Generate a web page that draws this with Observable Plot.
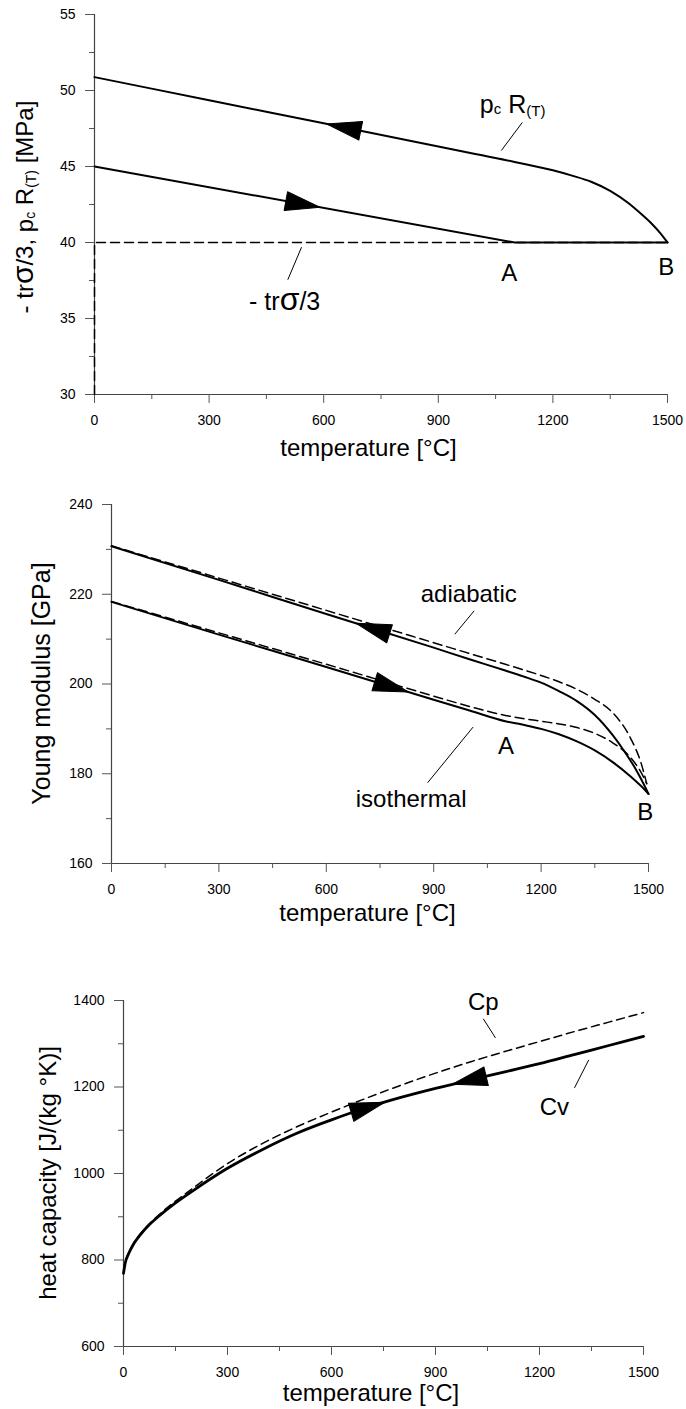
<!DOCTYPE html>
<html><head><meta charset="utf-8">
<script src="https://cdn.jsdelivr.net/npm/d3@7"></script>
<script src="https://cdn.jsdelivr.net/npm/@observablehq/plot@0.6"></script>
<style>
body{margin:0;background:#fff;}
#wrap{width:686px;}
#wrap svg{display:block;}
</style></head><body><div id="wrap"></div>
<script>
// ---------- shared ticks ----------
const xTicks = [0, 300, 600, 900, 1200, 1500];
const xMinorTicks = [150, 450, 750, 1050, 1350];

// ---------- panel 1 : - tr sigma/3 and pc R(T) ----------
const p1YTicks = [30, 35, 40, 45, 50, 55];
const p1YMinor = [32.5, 37.5, 42.5, 47.5, 52.5];
const pcR_T = [0, 300, 600, 900, 1000, 1100, 1200, 1250, 1300, 1350, 1400, 1430, 1460, 1480, 1500];
const pcR_V = [50.88, 49.36, 47.84, 46.32, 45.8, 45.3, 44.75, 44.4, 44.0, 43.4, 42.55, 41.9, 41.2, 40.65, 40.0];
const load_T = [0, 1100, 1500];
const load_V = [45.0, 40.0, 40.0];
const trace_T = [0, 0, 1500];
const trace_V = [30, 40, 40];
const p1Labels = ["A", "B"];
const p1LabelT = [1086, 1497];
const p1LabelV = [37.96, 38.36];
const p1LeadT1 = [1120, 542], p1LeadV1 = [47.9, 39.69];
const p1LeadT2 = [1065, 506], p1LeadV2 = [46.05, 37.55];
const p1ArrowT = [652, 546];
const p1ArrowDir = [-1, 1];

// ---------- panel 2 : Young modulus ----------
const p2YTicks = [160, 180, 200, 220, 240];
const p2YMinor = [170, 190, 210, 230];
const adS_T = [0, 300, 600, 900, 1000, 1100, 1150, 1200, 1250, 1300, 1350, 1400, 1430, 1460, 1480, 1500];
const adS_V = [230.7, 223.2, 215.6, 208.1, 205.5, 203.0, 201.7, 200.3, 198.4, 196.2, 193.1, 188.6, 185.3, 181.6, 178.7, 175.5];
const adD_T = [0, 300, 600, 900, 1000, 1100, 1200, 1250, 1300, 1350, 1400, 1450, 1480, 1495];
const adD_V = [230.8, 223.6, 216.4, 209.2, 206.8, 204.4, 201.9, 200.5, 198.8, 196.6, 193.6, 187.9, 182.2, 177.8];
const isS_T = [0, 300, 600, 900, 1000, 1100, 1150, 1200, 1250, 1300, 1350, 1400, 1450, 1480, 1500];
const isS_V = [218.3, 211.0, 203.8, 196.5, 194.1, 191.7, 190.9, 190.0, 188.8, 187.2, 185.2, 182.6, 179.4, 177.2, 175.5];
const isD_T = [0, 300, 600, 900, 1000, 1100, 1150, 1200, 1250, 1300, 1350, 1400, 1450, 1480, 1495];
const isD_V = [218.4, 211.4, 204.4, 197.3, 195.0, 193.0, 192.3, 191.7, 191.1, 190.3, 189.0, 186.9, 183.6, 180.2, 177.8];
const p2Labels = ["adiabatic", "isothermal", "A", "B"];
const p2LabelT = [998, 837, 1102, 1491];
const p2LabelV = [220.0, 174.3, 186.2, 171.4];
const p2LeadT1 = [1013, 1010], p2LeadV1 = [216.3, 190.4];
const p2LeadT2 = [959, 883], p2LeadV2 = [211.1, 178.0];
const p2ArrowT = [730, 782];
const p2ArrowDir = [-1, 1];

// ---------- panel 3 : heat capacity ----------
const p3YTicks = [600, 800, 1000, 1200, 1400];
const p3YMinor = [700, 900, 1100, 1300];
const cv_T = [0, 5, 15, 30, 50, 75, 100, 150, 200, 300, 400, 500, 600, 700, 800, 900, 1000, 1100, 1200, 1300, 1400, 1500];
const cv_V = [769, 793, 815, 838, 860, 882, 900, 932, 960, 1012, 1055, 1093, 1124, 1152, 1176, 1197, 1216, 1235, 1254, 1275, 1296, 1317];
const cp_T = [0, 5, 15, 30, 50, 75, 100, 150, 200, 300, 400, 500, 600, 700, 800, 900, 1000, 1100, 1200, 1300, 1400, 1500];
const cp_V = [769, 794, 817, 840, 862, 884, 903, 936, 966, 1023, 1069, 1108, 1142, 1174, 1204, 1232, 1258, 1282, 1305, 1328, 1350, 1372];
const p3Labels = ["Cp", "Cv"];
const p3LabelT = [1038, 1243];
const p3LabelV = [1396, 1153];
const p3LeadT1 = [1038, 1342], p3LeadV1 = [1357.6, 1262.7];
const p3LeadT2 = [1073, 1301], p3LeadV2 = [1313.6, 1198];
const p3ArrowT = [705, 997];
const p3ArrowDir = [1, -1];

// ---------- helpers ----------
const FONT = "'Liberation Sans', Arial, Helvetica, sans-serif";
const W = 686;
const rows = (X, Y) => X.map((x, i) => ({x, y: Y[i]}));
const texts = (L, X, Y) => L.map((t, i) => ({t, x: X[i], y: Y[i]}));
const links = (X1, Y1, X2, Y2) => X1.map((x, i) => ({x1: x, y1: Y1[i], x2: X2[i], y2: Y2[i]}));
function interp(Ts, Vs, t) {
  for (let i = 1; i < Ts.length; i++) if (t <= Ts[i]) {
    const f = (t - Ts[i - 1]) / (Ts[i] - Ts[i - 1]);
    return Vs[i - 1] + f * (Vs[i] - Vs[i - 1]);
  }
  return Vs[Vs.length - 1];
}
function arrowRows(cfg, yDom, curves, ts, dirs) {
  const sx = (W - cfg.marginLeft - cfg.marginRight) / 1500;
  const sy = (cfg.height - cfg.marginTop - cfg.marginBottom) / (yDom[1] - yDom[0]);
  return ts.map((t, i) => {
    const [Ts, Vs] = curves[i];
    const v = interp(Ts, Vs, t);
    const t2 = t + dirs[i] * 20;
    const v2 = interp(Ts, Vs, t2);
    const dx = (t2 - t) * sx, dy = -(v2 - v) * sy;
    return {x: t, y: v, rotate: Math.atan2(dx, -dy) * 180 / Math.PI};
  });
}
const arrowShape = {
  draw(context, l, r) {
    context.moveTo(0, -l);
    context.lineTo(r, 0);
    context.lineTo(-r, 0);
    context.closePath();
  }
};
function axes(yTicks, yMinor, y0) {
  return [
    Plot.ruleY([y0], {stroke: "#444", strokeWidth: 1.2}),
    Plot.ruleX([0], {stroke: "#444", strokeWidth: 1.2}),
    Plot.axisX(xTicks, {tickSize: 9, tickPadding: 12, fontSize: 14, stroke: "#555", label: null, tickFormat: d => String(d)}),
    Plot.axisX(xMinorTicks, {tickSize: 5, stroke: "#555", label: null, tickFormat: () => ""}),
    Plot.axisY(yTicks, {tickSize: 9, tickPadding: 10, fontSize: 14, stroke: "#555", label: null, tickFormat: d => String(d)}),
    Plot.axisY(yMinor, {tickSize: 5, stroke: "#555", label: null, tickFormat: () => ""})
  ];
}
const style = {fontFamily: FONT, fontSize: "14px", color: "black", background: "white", overflow: "visible"};
function rich(svg, x, y, parts, fontSize, anchor, rotate) {
  const t = d3.select(svg).append("text")
    .attr("font-family", FONT).attr("font-size", fontSize).attr("fill", "black")
    .attr("text-anchor", anchor || "start");
  if (rotate) t.attr("transform", `translate(${x},${y}) rotate(${rotate})`);
  else t.attr("x", x).attr("y", y);
  for (const p of parts) {
    const s = t.append("tspan").text(p.t);
    if (p.size) s.attr("font-size", p.size);
    if (p.dy) s.attr("dy", p.dy);
  }
  return t;
}
function xTitle(svg, cfg, cy) {
  const cx = (cfg.marginLeft + W - cfg.marginRight) / 2 - 12;
  d3.select(svg).append("text").attr("x", cx).attr("y", cy).attr("dy", "0.35em")
    .attr("text-anchor", "middle").attr("font-family", FONT).attr("font-size", 24)
    .attr("fill", "black").text("temperature [°C]");
}
const wrap = document.getElementById("wrap");
const lineOpts = {x: "x", y: "y", stroke: "black"};
const arrowOpts = {x: "x", y: "y", rotate: "rotate", length: 35, r: 9.5, shape: arrowShape, anchor: "middle", fill: "black", stroke: "black", strokeWidth: 1};

// ---------- panel 1 ----------
const cfg1 = {width: W, height: 470, marginLeft: 94, marginRight: 19, marginTop: 14, marginBottom: 76};
const y1Dom = [30, 55];
const arrows1 = arrowRows(cfg1, y1Dom, [[pcR_T, pcR_V], [load_T, load_V]], p1ArrowT, p1ArrowDir);
const plot1 = Plot.plot({
  ...cfg1, style,
  x: {domain: [0, 1500]}, y: {domain: y1Dom},
  marks: [
    ...axes(p1YTicks, p1YMinor, 30),
    Plot.line(rows(trace_T, trace_V), {...lineOpts, strokeWidth: 1.5, strokeDasharray: "9,5"}),
    Plot.line(rows(load_T, load_V), {...lineOpts, strokeWidth: 2}),
    Plot.line(rows(pcR_T, pcR_V), {...lineOpts, strokeWidth: 2, curve: "monotone-x"}),
    Plot.link(links(p1LeadT1, p1LeadV1, p1LeadT2, p1LeadV2), {x1: "x1", y1: "y1", x2: "x2", y2: "y2", stroke: "black", strokeWidth: 1}),
    Plot.text(texts(p1Labels, p1LabelT, p1LabelV), {x: "x", y: "y", text: "t", fontSize: 24, fill: "black"}),
    Plot.vector(arrows1, arrowOpts)
  ]
});
wrap.appendChild(plot1);
{
  const sx = plot1.scale("x"), sy = plot1.scale("y");
  rich(plot1, sx.apply(1010), sy.apply(48.5), [
    {t: "p"}, {t: "c", size: 15, dy: 1}, {t: " R", dy: -1}, {t: "(T)", size: 15, dy: 3}
  ], 25);
  rich(plot1, sx.apply(406), sy.apply(35.53), [
    {t: "- tr"}, {t: "σ", size: 32}, {t: "/3"}
  ], 25);
  rich(plot1, 33, (cfg1.marginTop + cfg1.height - cfg1.marginBottom) / 2 + 3, [
    {t: "- tr"}, {t: "σ", size: 30}, {t: "/3, p"}, {t: "c", size: 14, dy: 2}, {t: " R", dy: -2},
    {t: "(T)", size: 14, dy: 3}, {t: " [MPa]", dy: -3}
  ], 24, "middle", -90);
  xTitle(plot1, cfg1, 448);
}

// ---------- panel 2 ----------
const cfg2 = {width: W, height: 480, marginLeft: 111, marginRight: 38, marginTop: 34, marginBottom: 87};
const y2Dom = [160, 240];
const arrows2 = arrowRows(cfg2, y2Dom, [[adS_T, adS_V], [isS_T, isS_V]], p2ArrowT, p2ArrowDir);
const plot2 = Plot.plot({
  ...cfg2, style,
  x: {domain: [0, 1500]}, y: {domain: y2Dom},
  marks: [
    ...axes(p2YTicks, p2YMinor, 160),
    Plot.line(rows(adD_T, adD_V), {...lineOpts, strokeWidth: 1.5, strokeDasharray: "9,5", curve: "monotone-x"}),
    Plot.line(rows(isD_T, isD_V), {...lineOpts, strokeWidth: 1.5, strokeDasharray: "9,5", curve: "monotone-x"}),
    Plot.line(rows(adS_T, adS_V), {...lineOpts, strokeWidth: 2, curve: "monotone-x"}),
    Plot.line(rows(isS_T, isS_V), {...lineOpts, strokeWidth: 2, curve: "monotone-x"}),
    Plot.link(links(p2LeadT1, p2LeadV1, p2LeadT2, p2LeadV2), {x1: "x1", y1: "y1", x2: "x2", y2: "y2", stroke: "black", strokeWidth: 1}),
    Plot.text(texts(p2Labels, p2LabelT, p2LabelV), {x: "x", y: "y", text: "t", fontSize: 24, fill: "black"}),
    Plot.vector(arrows2, arrowOpts)
  ]
});
wrap.appendChild(plot2);
rich(plot2, 41, (cfg2.marginTop + cfg2.height - cfg2.marginBottom) / 2, [{t: "Young modulus [GPa]"}], 25, "middle", -90).attr("dy", "0.35em");
xTitle(plot2, cfg2, 443);

// ---------- panel 3 ----------
const cfg3 = {width: W, height: 459, marginLeft: 123, marginRight: 43, marginTop: 50, marginBottom: 63};
const y3Dom = [600, 1400];
const arrows3 = arrowRows(cfg3, y3Dom, [[cv_T, cv_V], [cv_T, cv_V]], p3ArrowT, p3ArrowDir);
const plot3 = Plot.plot({
  ...cfg3, style,
  x: {domain: [0, 1500]}, y: {domain: y3Dom},
  marks: [
    ...axes(p3YTicks, p3YMinor, 600),
    Plot.line(rows(cp_T, cp_V), {...lineOpts, strokeWidth: 1.5, strokeDasharray: "8,5", curve: "monotone-x"}),
    Plot.line(rows(cv_T, cv_V), {...lineOpts, strokeWidth: 2.8, curve: "monotone-x"}),
    Plot.link(links(p3LeadT1, p3LeadV1, p3LeadT2, p3LeadV2), {x1: "x1", y1: "y1", x2: "x2", y2: "y2", stroke: "black", strokeWidth: 1}),
    Plot.text(texts(p3Labels, p3LabelT, p3LabelV), {x: "x", y: "y", text: "t", fontSize: 24, fill: "black"}),
    Plot.vector(arrows3, arrowOpts)
  ]
});
wrap.appendChild(plot3);
rich(plot3, 48, (cfg3.marginTop + cfg3.height - cfg3.marginBottom) / 2, [{t: "heat capacity [J/(kg °K)]"}], 24, "middle", -90).attr("dy", "0.35em");
xTitle(plot3, cfg3, 443);
</script>
</body></html>
